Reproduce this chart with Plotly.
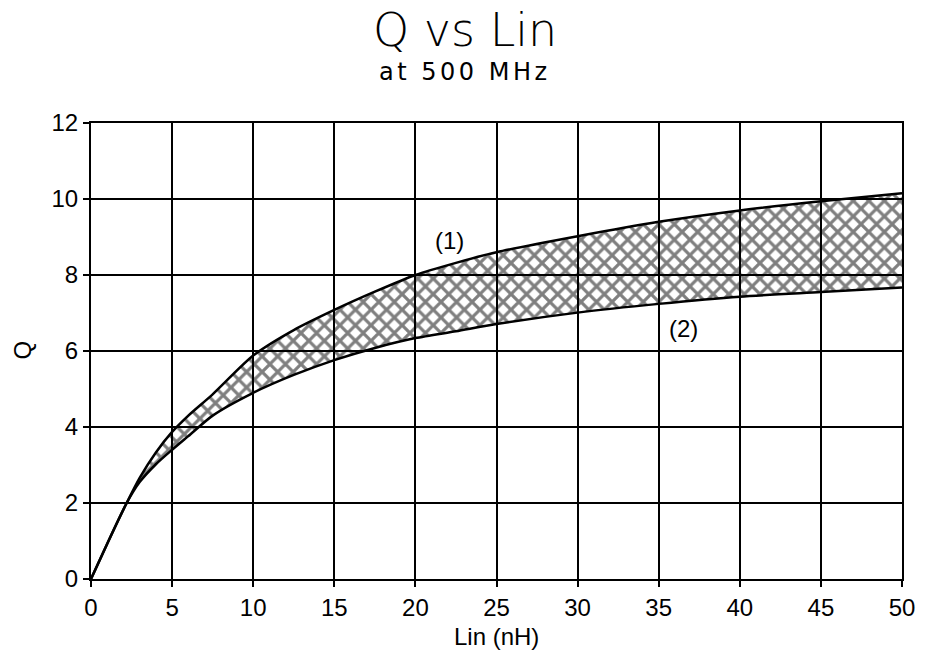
import plotly.graph_objects as go

lin_nh = [0, 1, 2.2, 3, 4, 5, 6, 7.5, 10, 12.5, 15, 17.5, 20, 22.5, 25, 30, 35, 40, 45, 50]
q_upper = [0, 0.93, 2.0, 2.66, 3.33, 3.87, 4.3, 4.86, 5.88, 6.55, 7.08, 7.56, 8.0, 8.32, 8.6, 9.02, 9.4, 9.7, 9.94, 10.15]
q_lower = [0, 0.93, 2.0, 2.55, 3.02, 3.4, 3.76, 4.3, 4.9, 5.37, 5.76, 6.08, 6.34, 6.52, 6.71, 7.01, 7.24, 7.43, 7.55, 7.67]
x_ticks = [0, 5, 10, 15, 20, 25, 30, 35, 40, 45, 50]
y_ticks = [0, 2, 4, 6, 8, 10, 12]

TICKFONT = dict(family="Liberation Sans, Arial, sans-serif", size=24, color="black")

fig = go.Figure()
fig.add_trace(go.Scatter(x=lin_nh, y=q_lower, mode="lines",
                         line=dict(color="black", width=2.5, shape="spline", smoothing=0.7),
                         showlegend=False, hoverinfo="skip"))
fig.add_trace(go.Scatter(x=lin_nh, y=q_upper, mode="lines",
                         line=dict(color="black", width=2.5, shape="spline", smoothing=0.7),
                         fill="tonexty", fillcolor="rgba(0,0,0,0)",
                         fillpattern=dict(shape="x", fgcolor="black", bgcolor="rgba(0,0,0,0)", size=11, solidity=0.5),
                         showlegend=False, hoverinfo="skip"))

axis_common = dict(showgrid=True, gridcolor="black", gridwidth=1.5, showline=True, linecolor="black", linewidth=2,
                   mirror=True, ticks="outside", ticklen=6, tickwidth=2, tickcolor="black", zeroline=False,
                   tickfont=TICKFONT)
fig.update_xaxes(range=[0, 50], tickvals=x_ticks, **axis_common)
fig.update_yaxes(range=[0, 12], tickvals=y_ticks, **axis_common)

fig.update_layout(
    width=927, height=654,
    margin=dict(l=91, r=19, t=123, b=75),
    paper_bgcolor="white", plot_bgcolor="white",
    annotations=[
        dict(text="Q vs Lin", xref="paper", yref="paper", x=0.4615, y=1.204, showarrow=False,
             xanchor="center", yanchor="middle",
             font=dict(family="DejaVu Sans", size=46, color="black", weight=200)),
        dict(text='<span style="letter-spacing:3.5px">at 500 MHz</span>', xref="paper", yref="paper",
             x=0.4615, y=1.112, showarrow=False, xanchor="center", yanchor="middle",
             font=dict(family="DejaVu Sans", size=24, color="black")),
        dict(text="Lin (nH)", xref="paper", yref="paper", x=0.5, y=-0.125, showarrow=False,
             xanchor="center", yanchor="middle", font=TICKFONT),
        dict(text="Q", xref="paper", yref="paper", x=-0.0845, y=0.502, showarrow=False, textangle=-90,
             xanchor="center", yanchor="middle", font=TICKFONT),
        dict(text="(1)", x=22.1, y=8.92, xref="x", yref="y", showarrow=False, font=TICKFONT),
        dict(text="(2)", x=36.5, y=6.6, xref="x", yref="y", showarrow=False, font=TICKFONT),
    ],
)

fig.write_html("out.html")
